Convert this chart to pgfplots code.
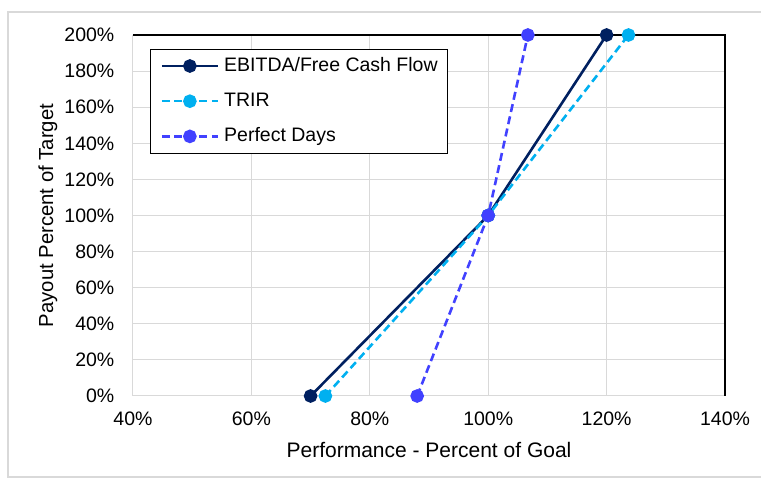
\documentclass[border=0pt]{standalone}
\usepackage{pgfplots}
\pgfplotsset{compat=1.18}
\usepackage{fontspec}
\setmainfont{Liberation Sans}
\definecolor{navy}{HTML}{002060}
\definecolor{cyanx}{HTML}{00B0F0}
\definecolor{bluex}{HTML}{4141FF}
\definecolor{gridc}{HTML}{D9D9D9}
\begin{document}
\fontsize{19.5pt}{22pt}\selectfont
\begin{tikzpicture}[x=1pt,y=1pt]
\useasboundingbox (0,0) rectangle (761,478);
\draw[gridc, line width=1.2pt] (761,466) -- (8,466) -- (8,1) -- (761,1);
\begin{axis}[
  at={(133pt,82pt)}, anchor=south west,
  scale only axis, width=592pt, height=361pt,
  xmin=40, xmax=140, ymin=0, ymax=200,
  xtick={40,60,80,100,120,140},
  xticklabels={40\%,60\%,80\%,100\%,120\%,140\%},
  ytick={0,20,40,60,80,100,120,140,160,180,200},
  yticklabels={0\%,20\%,40\%,60\%,80\%,100\%,120\%,140\%,160\%,180\%,200\%},
  major tick length=0pt,
  grid=major,
  grid style={gridc, line width=1pt},
  axis line style={draw=none},
  tick label style={font=\fontsize{19.5pt}{22pt}\selectfont},
  xticklabel style={yshift=-9pt},
  yticklabel style={xshift=-12pt},
  xlabel={Performance - Percent of Goal},
  ylabel={Payout Percent of Target},
  xlabel style={font=\fontsize{21pt}{24pt}\selectfont, at={(axis description cs:0.5,0)}, anchor=north, yshift=-40pt},
  ylabel style={font=\fontsize{20.3pt}{24pt}\selectfont, at={(axis description cs:0,0.5)}, anchor=south, yshift=69pt},
  legend style={at={(rel axis cs:0.029,0.961)}, anchor=north west,
    draw=black, line width=0.8pt, font=\fontsize{19.5pt}{22pt}\selectfont,
    inner xsep=8pt, inner ysep=6pt, row sep=14.5pt,
    cells={anchor=west}},
  legend image code/.code={
    \path (0pt,0pt) (61pt,0pt);
    \draw[#1, line width=2.6pt] (2pt,0pt) -- (58pt,0pt);
    \fill[#1, solid] (30pt,0pt) circle (5.5pt);
  },
  clip=false,
]
\draw[gridc, line width=1pt] (axis cs:40,200) -- (axis cs:40,0) -- (axis cs:140,0);
\draw[black, line width=1.8pt] (axis cs:40,200) -- (axis cs:140,200) -- (axis cs:140,0);
\addplot[navy, line width=2.6pt, mark=*, mark size=5.5pt, mark options={solid}]
  coordinates {(70,0) (100,100) (120,200)};
\addlegendentry{EBITDA/Free Cash Flow}
\addplot[cyanx, line width=2.6pt, dash pattern=on 8pt off 4.5pt, mark=*, mark size=5.5pt, mark options={solid}]
  coordinates {(72.5,0) (100,100) (123.7,200)};
\addlegendentry{TRIR}
\addplot[bluex, line width=2.6pt, dash pattern=on 8pt off 4.5pt, mark=*, mark size=5.5pt, mark options={solid}]
  coordinates {(88,0) (100,100) (106.7,200)};
\addlegendentry{Perfect Days}
\end{axis}
\end{tikzpicture}
\end{document}
